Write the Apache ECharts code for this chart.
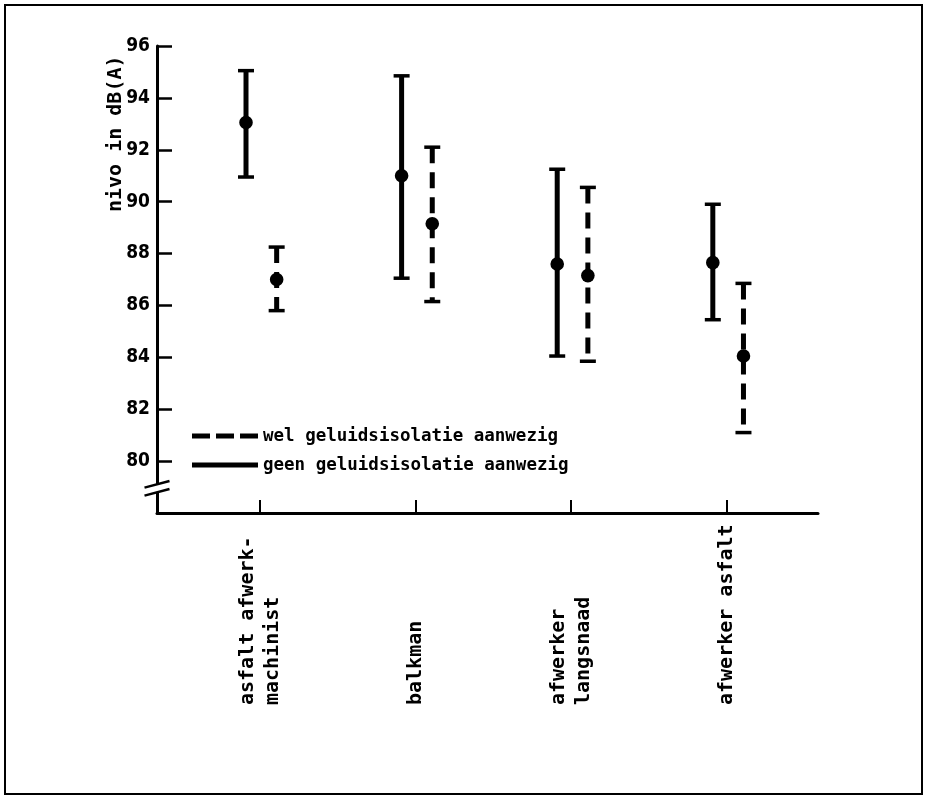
<!DOCTYPE html>
<html>
<head>
<meta charset="utf-8">
<script src="https://cdn.jsdelivr.net/npm/echarts@6/dist/echarts.min.js"></script>
<style>
  html, body { margin: 0; padding: 0; background: #fff; }
  #chart { width: 928px; height: 797px; }
</style>
</head>
<body>
<div id="chart"></div>
<script>
// Noise level per job, with and without sound insulation (mean and range, dB(A))
const categories = ['asfalt afwerk-\nmachinist', 'balkman', 'afwerker\nlangsnaad', 'afwerker asfalt'];

const geenName = 'geen geluidsisolatie aanwezig';
const geenMean = [93.05, 91.0, 87.6, 87.65];
const geenLow  = [90.95, 87.05, 84.05, 85.45];
const geenHigh = [95.05, 94.85, 91.25, 89.9];

const welName = 'wel geluidsisolatie aanwezig';
const welMean = [87.0, 89.15, 87.15, 84.05];
const welLow  = [85.8, 86.15, 83.85, 81.1];
const welHigh = [88.25, 92.1, 90.55, 86.85];

const yTicks = [80, 82, 84, 86, 88, 90, 92, 94, 96];
const yTitle = 'nivo in dB(A)';

const MONO = '"DejaVu Sans Mono", "Liberation Mono", monospace';
const COND = '"DejaVu Sans Condensed", "DejaVu Sans", sans-serif';

const chart = echarts.init(document.getElementById('chart'), null, { renderer: 'canvas' });

function rows(mean, low, high) {
  return categories.map((_, i) => [i, mean[i], low[i], high[i]]);
}

// error bar with cap lines and a filled dot at the mean
function errorBar(dashed, offset) {
  return function (params, api) {
    const i = api.value(0);
    const top = api.coord([i + offset, api.value(3)]);
    const bot = api.coord([i + offset, api.value(2)]);
    const mid = api.coord([i + offset, api.value(1)]);
    const x = top[0];
    const cap = 8;
    return {
      type: 'group',
      children: [
        { type: 'line', shape: { x1: x, y1: top[1], x2: x, y2: bot[1] },
          style: { stroke: '#000', lineWidth: 5, lineDash: dashed ? [16, 9] : null } },
        { type: 'line', shape: { x1: x - cap, y1: top[1], x2: x + cap, y2: top[1] },
          style: { stroke: '#000', lineWidth: 3.5 } },
        { type: 'line', shape: { x1: x - cap, y1: bot[1], x2: x + cap, y2: bot[1] },
          style: { stroke: '#000', lineWidth: 3.5 } },
        { type: 'circle', shape: { cx: x, cy: mid[1], r: 6.8 },
          style: { fill: '#000' } }
      ]
    };
  };
}

const option = {
  backgroundColor: '#fff',
  animation: false,
  grid: { left: 157, right: 110, top: 46, bottom: 284 },
  legend: {
    orient: 'vertical',
    left: 192,
    top: 427,
    padding: 0,
    itemWidth: 66,
    itemHeight: 5,
    itemGap: 11,
    selectedMode: false,
    textStyle: { fontFamily: MONO, fontWeight: 'bold', fontSize: 17.5, color: '#000' },
    data: [
      { name: welName, icon: 'path://M0,0H18V5H0Z M24,0H42V5H24Z M48,0H66V5H48Z' },
      { name: geenName, icon: 'rect' }
    ]
  },
  xAxis: {
    type: 'value',
    min: -0.662,
    max: 3.586,
    splitLine: { show: false },
    axisLine: { show: true, onZero: false, lineStyle: { color: '#000', width: 3 } },
    axisTick: { show: true, inside: true, length: 13, customValues: [0, 1, 2, 3],
      lineStyle: { color: '#000', width: 2 } },
    axisLabel: {
      show: true,
      customValues: [0, 1, 2, 3],
      formatter: v => categories[Math.round(v)],
      rotate: 90,
      align: 'left',
      verticalAlign: 'middle',
      margin: 192,
      lineHeight: 25,
      fontFamily: MONO,
      fontWeight: 'bold',
      fontSize: 20,
      color: '#000'
    }
  },
  yAxis: {
    type: 'value',
    min: 78,
    max: 96,
    interval: 2,
    splitLine: { show: false },
    axisLine: { show: true, onZero: false, lineStyle: { color: '#000', width: 3 } },
    axisTick: { show: true, inside: true, length: 15, customValues: yTicks,
      lineStyle: { color: '#000', width: 2.5 } },
    axisLabel: {
      customValues: yTicks,
      margin: 7,
      fontFamily: COND,
      fontWeight: 'bold',
      fontSize: 19,
      color: '#000'
    }
  },
  series: [
    {
      name: welName,
      type: 'custom',
      itemStyle: { color: '#000' },
      renderItem: errorBar(true, 0.107),
      encode: { x: 0, y: [1, 2, 3] },
      data: rows(welMean, welLow, welHigh),
      z: 3
    },
    {
      name: geenName,
      type: 'custom',
      itemStyle: { color: '#000' },
      renderItem: errorBar(false, -0.09),
      encode: { x: 0, y: [1, 2, 3] },
      data: rows(geenMean, geenLow, geenHigh),
      z: 3
    }
  ]
};

chart.setOption(option);

// axis break marks on the value axis, frame and rotated axis title
const axisX = chart.convertToPixel({ xAxisIndex: 0 }, -0.662);
const breakY = chart.convertToPixel({ yAxisIndex: 0 }, 78.95);
const dx = 12.5, slope = 3.3, gap = 4;
chart.setOption({
  graphic: [
    {
      type: 'rect', z: 0, silent: true,
      shape: { x: 5, y: 5, width: 917, height: 789 },
      style: { fill: null, stroke: '#000', lineWidth: 2 }
    },
    {
      type: 'polygon', z: 100, silent: true,
      shape: { points: [
        [axisX - 5, breakY + slope * 5 / dx - gap],
        [axisX + 5, breakY - slope * 5 / dx - gap],
        [axisX + 5, breakY - slope * 5 / dx + gap],
        [axisX - 5, breakY + slope * 5 / dx + gap]
      ] },
      style: { fill: '#fff' }
    },
    {
      type: 'line', z: 101, silent: true,
      shape: { x1: axisX - dx, y1: breakY + slope - gap, x2: axisX + dx, y2: breakY - slope - gap },
      style: { stroke: '#000', lineWidth: 2.5 }
    },
    {
      type: 'line', z: 101, silent: true,
      shape: { x1: axisX - dx, y1: breakY + slope + gap, x2: axisX + dx, y2: breakY - slope + gap },
      style: { stroke: '#000', lineWidth: 2.5 }
    },
    {
      type: 'text', z: 10, silent: true,
      x: 116, y: 212, rotation: Math.PI / 2,
      style: {
        text: yTitle,
        align: 'left',
        verticalAlign: 'middle',
        fontFamily: MONO,
        fontWeight: 'bold',
        fontSize: 20,
        fill: '#000'
      }
    }
  ]
});
</script>
</body>
</html>
